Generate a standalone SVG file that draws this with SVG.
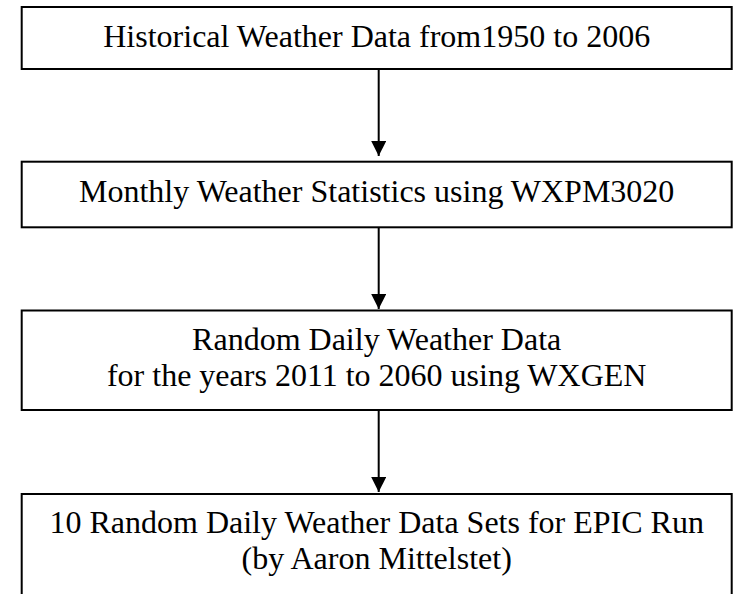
<svg xmlns="http://www.w3.org/2000/svg" width="734" height="594" viewBox="0 0 734 594">
<style>
.box{fill:#fff;stroke:#000;stroke-width:2}
.t{font-family:"Liberation Serif","Times New Roman",serif;font-size:32px;fill:#000;text-anchor:middle}
.c{stroke:#000;stroke-width:2;fill:none}
</style>
<defs>
<marker id="ah" markerUnits="userSpaceOnUse" markerWidth="16" markerHeight="16" refX="15" refY="7.5" orient="auto">
<path d="M0,0 L15,7.5 L0,15 Z" fill="#000"/>
</marker>
</defs>
<rect width="734" height="594" fill="#fff"/>
<g id="connectors">
<line class="c" x1="378.7" y1="69" x2="378.7" y2="156" marker-end="url(#ah)"/>
<line class="c" x1="378.7" y1="227.3" x2="378.7" y2="309" marker-end="url(#ah)"/>
<line class="c" x1="378.7" y1="410" x2="378.7" y2="492" marker-end="url(#ah)"/>
</g>
<g id="n1">
<rect class="box" x="21.7" y="7" width="710" height="62"/>
<text class="t" x="376.7" y="46.7">Historical Weather Data from1950 to 2006</text>
</g>
<g id="n2">
<rect class="box" x="21.7" y="161.7" width="710" height="65.6"/>
<text class="t" x="376.7" y="201.7">Monthly Weather Statistics using WXPM3020</text>
</g>
<g id="n3">
<rect class="box" x="21.7" y="310.5" width="710" height="99.5"/>
<text class="t" x="376.7" y="350">Random Daily Weather Data</text>
<text class="t" x="376.7" y="386">for the years 2011 to 2060 using WXGEN</text>
</g>
<g id="n4">
<rect class="box" x="21.7" y="494" width="710" height="120"/>
<text class="t" x="376.7" y="533.3">10 Random Daily Weather Data Sets for EPIC Run</text>
<text class="t" x="376.7" y="569.3">(by Aaron Mittelstet)</text>
</g>
</svg>
